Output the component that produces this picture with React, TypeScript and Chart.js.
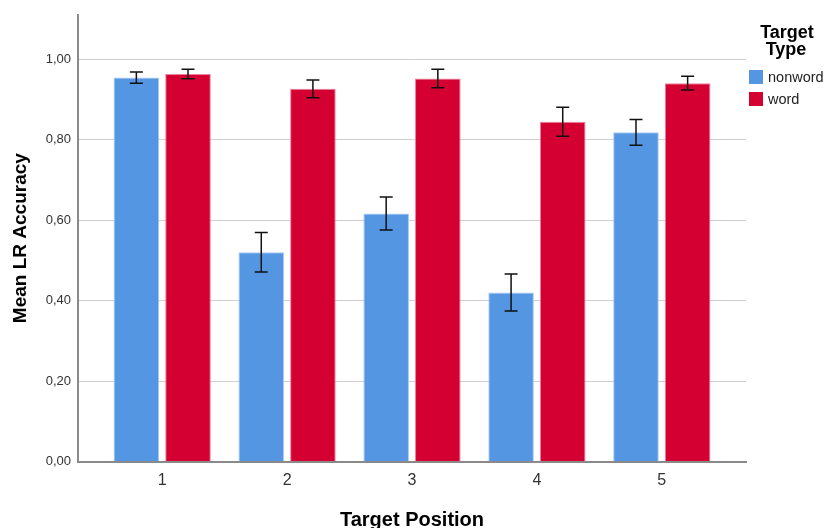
import React, { useEffect, useRef } from "react";
import { Chart, registerables } from "chart.js";

Chart.register(...registerables);

const categories = ["1", "2", "3", "4", "5"];
const seriesNames = ["nonword", "word"];
const nonwordMeans = [0.954, 0.52, 0.616, 0.42, 0.818];
const nonwordErr = [0.014, 0.049, 0.041, 0.046, 0.032];
const wordMeans = [0.963, 0.926, 0.952, 0.844, 0.94];
const wordErr = [0.012, 0.022, 0.023, 0.036, 0.017];
const yTicks = [0, 0.2, 0.4, 0.6, 0.8, 1.0];

const FONT = "'Liberation Sans', Arial, sans-serif";
const BLUE = "#5596E3";
const RED = "#D50032";

const errors = [nonwordErr, wordErr];

const errorBarPlugin = {
  id: "errorBars",
  afterDatasetsDraw(chart: any) {
    const ctx = chart.ctx;
    const yScale = chart.scales.y;
    ctx.save();
    ctx.strokeStyle = "#111";
    ctx.lineWidth = 1.5;
    chart.data.datasets.forEach((ds: any, di: number) => {
      const meta = chart.getDatasetMeta(di);
      meta.data.forEach((el: any, i: number) => {
        const v = ds.data[i].y;
        const e = errors[di][i];
        const yTop = yScale.getPixelForValue(v + e);
        const yBot = yScale.getPixelForValue(v - e);
        const x = el.x;
        const cap = 6.5;
        ctx.beginPath();
        ctx.moveTo(x, yTop);
        ctx.lineTo(x, yBot);
        ctx.moveTo(x - cap, yTop);
        ctx.lineTo(x + cap, yTop);
        ctx.moveTo(x - cap, yBot);
        ctx.lineTo(x + cap, yBot);
        ctx.stroke();
      });
    });
    ctx.restore();
  },
};

const legendPlugin = {
  id: "customLegend",
  afterDraw(chart: any) {
    const ctx = chart.ctx;
    ctx.save();
    ctx.fillStyle = "#000";
    ctx.font = `bold 18px ${FONT}`;
    ctx.textAlign = "center";
    ctx.textBaseline = "alphabetic";
    ctx.fillText("Target", 787, 38);
    ctx.fillText("Type", 786, 55);
    const colors = [BLUE, RED];
    seriesNames.forEach((name, i) => {
      const y = 70 + i * 22;
      ctx.fillStyle = colors[i];
      ctx.fillRect(749, y, 14, 14);
      ctx.fillStyle = "#222";
      ctx.font = `14.5px ${FONT}`;
      ctx.textAlign = "left";
      ctx.textBaseline = "middle";
      ctx.fillText(name, 768, y + 7.5);
    });
    ctx.restore();
  },
};

export default function App() {
  const ref = useRef<HTMLCanvasElement>(null);
  useEffect(() => {
    document.body.style.margin = "0";
    const mk = (vals: number[]) => vals.map((v, i) => ({ x: i + 1, y: v }));
    const chart = new Chart(ref.current!, {
      type: "bar",
      data: {
        datasets: [
          {
            label: seriesNames[0],
            data: mk(nonwordMeans),
            backgroundColor: BLUE,
            borderColor: "#A9CBF2",
            borderWidth: 1,
            categoryPercentage: 0.827,
            barPercentage: 0.883,
          },
          {
            label: seriesNames[1],
            data: mk(wordMeans),
            backgroundColor: RED,
            borderColor: "#EC7FA0",
            borderWidth: 1,
            categoryPercentage: 0.827,
            barPercentage: 0.883,
          },
        ] as any,
      },
      options: {
        responsive: false,
        animation: false,
        layout: { padding: { top: 13, right: 79, left: 0, bottom: 0 } },
        plugins: { legend: { display: false }, tooltip: { enabled: false } },
        scales: {
          x: {
            type: "linear",
            offset: false,
            min: 0.326,
            max: 5.674,
            grid: { display: false, drawTicks: false },
            border: { display: true, color: "#8a8a8a", width: 2 },
            afterBuildTicks: (scale: any) => {
              scale.ticks = categories.map((_, i) => ({ value: i + 1 }));
            },
            afterFit: (scale: any) => {
              scale.height = 66.5;
            },
            ticks: {
              padding: 9,
              color: "#333",
              font: { family: FONT, size: 16 },
              callback: (v: any) => categories[Math.round(Number(v)) - 1] ?? "",
            },
            title: {
              display: true,
              text: "Target Position",
              color: "#000",
              font: { family: FONT, size: 20, weight: "bold", lineHeight: 1 },
              padding: { top: 0, bottom: -2 },
            },
          },
          y: {
            min: 0,
            max: 1.11,
            grid: { color: "#cfcfcf", lineWidth: 1, drawTicks: false },
            border: { display: true, color: "#8a8a8a", width: 2 },
            afterBuildTicks: (scale: any) => {
              scale.ticks = yTicks.map((v) => ({ value: v }));
            },
            afterFit: (scale: any) => {
              scale.width = 78;
            },
            ticks: {
              padding: 7,
              color: "#333",
              font: { family: FONT, size: 13 },
              callback: (v: any) => Number(v).toFixed(2).replace(".", ","),
            },
            title: {
              display: true,
              text: "Mean LR Accuracy",
              color: "#000",
              font: { family: FONT, size: 19, weight: "bold", lineHeight: 1 },
              padding: { top: 11, bottom: 0 },
            },
          },
        },
      } as any,
      plugins: [errorBarPlugin, legendPlugin],
    });
    return () => chart.destroy();
  }, []);
  return (
    <div style={{ width: 825, height: 528, background: "#fff" }}>
      <canvas ref={ref} width={825} height={528} />
    </div>
  );
}
